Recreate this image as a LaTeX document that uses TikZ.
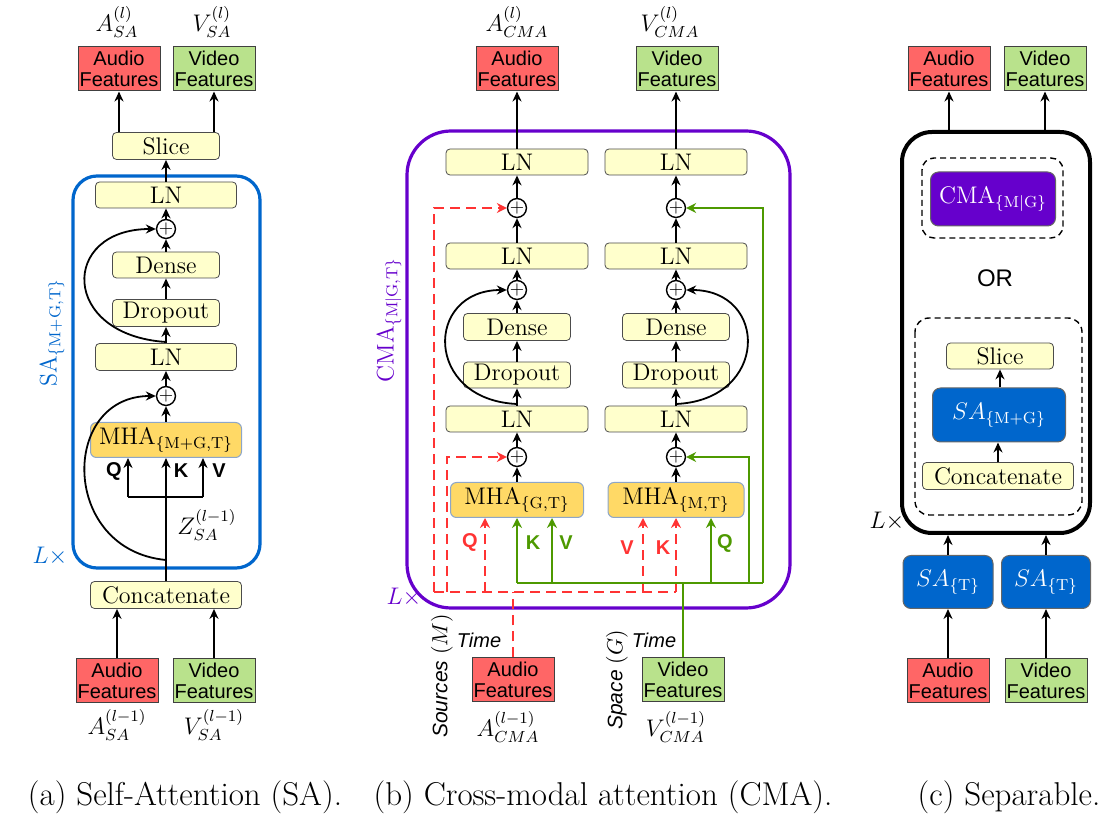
\documentclass[tikz,border=0pt]{standalone}
\usepackage{fontspec}
\newfontfamily\arial{Liberation Sans}
\usetikzlibrary{arrows.meta,calc}
\definecolor{audioRed}{HTML}{FF6666}
\definecolor{videoGreen}{HTML}{B9E28C}
\definecolor{lnYellow}{HTML}{FFFFCC}
\definecolor{mhaOrange}{HTML}{FFD966}
\definecolor{mhaEdge}{HTML}{8DA6C8}
\definecolor{saBlue}{HTML}{0066CC}
\definecolor{cmaPurple}{HTML}{6600CC}
\definecolor{dashRed}{HTML}{FF3333}
\definecolor{lineGreen}{HTML}{4D9900}
\begin{document}
\begin{tikzpicture}[x=0.5pt,y=-0.5pt,
 lnbox/.style={draw=black!70, fill=lnYellow, rounded corners=2pt, inner sep=0pt, font=\fontsize{12}{14}\selectfont, line width=0.4pt},
 feat/.style={draw=black!75, line width=0.5pt, inner sep=0pt, minimum width=41pt, minimum height=22pt, align=center, font=\arial\fontsize{10}{10.5}\selectfont},
 audio/.style={feat, fill=audioRed},
 video/.style={feat, fill=videoGreen},
 mha/.style={draw=mhaEdge, fill=mhaOrange, rounded corners=3pt, inner sep=0pt, minimum height=17.5pt, line width=0.5pt, font=\fontsize{12}{14}\selectfont},
 plus/.style={circle, draw, fill=white, line width=0.7pt, minimum size=7.5pt, inner sep=0pt, font=\fontsize{9}{9}\selectfont},
 arr/.style={-{Stealth[length=5pt,width=4.5pt]}, line width=0.9pt},
 lbl/.style={font=\fontsize{12}{14}\selectfont, inner sep=0pt},
 qkv/.style={font=\arial\bfseries\fontsize{10}{10}\selectfont, inner sep=0pt},
 rdash/.style={draw=dashRed, dash pattern=on 5pt off 3pt, line width=1pt},
 rarr/.style={-{Stealth[length=5pt,width=5pt]}, dashRed},
 gline/.style={draw=lineGreen, line width=1pt},
 garr/.style={-{Stealth[length=5pt,width=5pt]}, lineGreen},
 solidbox/.style={rounded corners=4pt, inner sep=0pt, text=white, font=\fontsize{12}{14}\selectfont, draw=black!60, line width=0.5pt},
 capt/.style={font=\fontsize{16.5}{19}\selectfont, inner sep=0pt}
]
\useasboundingbox (0,0) rectangle (1116,818);

% ================= Panel (a) =================
\draw[saBlue, line width=1.6pt, rounded corners=12pt] (73,176) rectangle (260,568);
\node[lbl] (aLA) at (117,22) {$A^{(l)}_{SA}$};
\node[lbl] (aLV) at (212,22) {$V^{(l)}_{SA}$};
\node[audio] (aOutA) at (119,69) {Audio\\Features};
\node[video] (aOutV) at (214,69) {Video\\Features};
\node[lnbox, minimum width=53.5pt, minimum height=13.5pt] (aSlice) at (166,146) {Slice};
\node[lnbox, minimum width=70.5pt, minimum height=13pt] (aLN2) at (166,195) {LN};
\node[plus] (aP2) at (166,229) {$+$};
\node[lnbox, minimum width=53.5pt, minimum height=13pt] (aDense) at (166,265) {Dense};
\node[lnbox, minimum width=53.5pt, minimum height=13.5pt] (aDrop) at (166,313) {Dropout};
\node[lnbox, minimum width=70.5pt, minimum height=13.5pt] (aLN1) at (166,357) {LN};
\node[plus] (aP1) at (166,396) {$+$};
\node[mha, minimum width=75.5pt] (aMHA) at (166,440) {MHA$_{\{\mathrm{M+G,T}\}}$};
\node[lnbox, minimum width=75.5pt, minimum height=13.5pt] (aConcat) at (166,595) {Concatenate};
\node[audio] (aInA) at (117,681) {Audio\\Features};
\node[video] (aInV) at (214,681) {Video\\Features};
\node[lbl] (aLA0) at (117,725) {$A^{(l-1)}_{SA}$};
\node[lbl] (aLV0) at (214,725) {$V^{(l-1)}_{SA}$};
\node[qkv] (aQ) at (114,471) {Q};
\node[qkv] (aK) at (181,471) {K};
\node[qkv] (aV) at (219,471) {V};
\node[lbl] (aZ) at (207,525) {$Z^{(l-1)}_{SA}$};
\node[lbl, rotate=90, text=saBlue] (aSAlab) at (52,333) {$\mathrm{SA}_{\{\mathrm{M+G,T}\}}$};
\node[lbl, text=saBlue] (aL) at (50,556) {$L\times$};

\draw[arr] (aInA.north) -- (aInA.north |- aConcat.south);
\draw[arr] (aInV.north) -- (aInV.north |- aConcat.south);
\draw[arr] (aConcat.north) -- (aMHA.south);
\coordinate (aBrQ) at (128,497);
\coordinate (aBrV) at (203,497);
\draw[line width=0.9pt] (aBrQ) -- (aBrV);
\draw[arr] (aBrQ) -- (aBrQ |- aMHA.south);
\draw[arr] (aBrV) -- (aBrV |- aMHA.south);
\coordinate (aSk1) at (166,560);
\draw[arr] (aSk1) .. controls (60,550) and (60,396) .. (aP1.west);
\draw[arr] (aMHA.north) -- (aP1.south);
\draw[arr] (aP1.north) -- (aLN1.south);
\draw[arr] (aLN1.north) -- (aDrop.south);
\coordinate (aSk2) at (166,342);
\draw[arr] (aSk2) .. controls (60,335) and (60,229) .. (aP2.west);
\draw[arr] (aDrop.north) -- (aDense.south);
\draw[arr] (aDense.north) -- (aP2.south);
\draw[arr] (aP2.north) -- (aLN2.south);
\draw[arr] (aLN2.north) -- (aSlice.south);
\draw[arr] (aSlice.north -| aOutA) -- (aOutA.south);
\draw[arr] (aSlice.north -| aOutV) -- (aOutV.south);

% ================= Panel (b) =================
\draw[cmaPurple, line width=1.6pt, rounded corners=22pt] (407,131) rectangle (790,608);
\node[lbl] (bLA) at (517,22) {$A^{(l)}_{CMA}$};
\node[lbl] (bLV) at (670,22) {$V^{(l)}_{CMA}$};
\node[audio] (bOutA) at (517,69) {Audio\\Features};
\node[video] (bOutV) at (677,69) {Video\\Features};
\foreach \s/\x in {L/517,R/676}{
  \node[lnbox, minimum width=71pt, minimum height=13pt] (bLN3\s) at (\x,162) {LN};
  \node[plus] (bP3\s) at (\x,208) {$+$};
  \node[lnbox, minimum width=71pt, minimum height=13pt] (bLN2\s) at (\x,256) {LN};
  \node[plus] (bP2\s) at (\x,290) {$+$};
  \node[lnbox, minimum width=53.5pt, minimum height=13.5pt] (bDense\s) at (\x,327) {Dense};
  \node[lnbox, minimum width=53.5pt, minimum height=13pt] (bDrop\s) at (\x,375) {Dropout};
  \node[lnbox, minimum width=71pt, minimum height=13pt] (bLN1\s) at (\x,419) {LN};
  \node[plus] (bP1\s) at (\x,457) {$+$};
}
\node[mha, minimum width=66.5pt] (bMHAL) at (517,500) {MHA$_{\{\mathrm{G,T}\}}$};
\node[mha, minimum width=68pt] (bMHAR) at (676,500) {MHA$_{\{\mathrm{M,T}\}}$};
\foreach \s in {L,R}{
  \draw[arr] (bMHA\s.north) -- (bP1\s.south);
  \draw[arr] (bP1\s.north) -- (bLN1\s.south);
  \draw[arr] (bLN1\s.north) -- (bDrop\s.south);
  \draw[arr] (bDrop\s.north) -- (bDense\s.south);
  \draw[arr] (bDense\s.north) -- (bP2\s.south);
  \draw[arr] (bP2\s.north) -- (bLN2\s.south);
  \draw[arr] (bLN2\s.north) -- (bP3\s.south);
  \draw[arr] (bP3\s.north) -- (bLN3\s.south);
}
\draw[arr] (bLN3L.north) -- (bOutA.south -| bLN3L);
\draw[arr] (bLN3R.north) -- (bOutV.south -| bLN3R);
\coordinate (bSkL) at (517,404);
\coordinate (bSkR) at (676,404);
\draw[arr] (bSkL) .. controls (424,400) and (424,290) .. (bP2L.west);
\draw[arr] (bSkR) .. controls (769,400) and (769,290) .. (bP2R.east);

\node[audio] (bInA) at (513,680) {Audio\\Features};
\node[video] (bInV) at (683,680) {Video\\Features};
\node[lbl] (bLA0) at (508,727) {$A^{(l-1)}_{CMA}$};
\node[lbl] (bLV0) at (676,727) {$V^{(l-1)}_{CMA}$};
\node[inner sep=0pt, font=\arial\itshape\fontsize{10}{10}\selectfont] (bT1) at (479,640) {Time};
\node[inner sep=0pt, font=\arial\itshape\fontsize{10}{10}\selectfont] (bT2) at (654,640) {Time};
\node[inner sep=0pt, rotate=90, font=\arial\itshape\fontsize{10.5}{10.5}\selectfont] (bSrc) at (442,676) {Sources $(M)$};
\node[inner sep=0pt, rotate=90, font=\arial\itshape\fontsize{10.5}{10.5}\selectfont] (bSpc) at (617,680) {Space $(G)$};

% red dashed (audio)
\coordinate (rL) at (434,592);
\coordinate (rI) at (447,592);
\coordinate (rQ) at (485,592);
\coordinate (rV) at (643,592);
\coordinate (rR) at (676,592);
\draw[rdash] (bInA.north) -- (bInA.north |- rL);
\draw[rdash] (rL) -- (rR);
\draw[rdash, rarr] (rL) |- (bP3L.west);
\draw[rdash, rarr] (rI) |- (bP1L.west);
\draw[rdash, rarr] (rQ) -- (rQ |- bMHAL.south);
\draw[rdash, rarr] (rV) -- (rV |- bMHAR.south);
\draw[rdash, rarr] (rR) -- (rR |- bMHAR.south);
% green (video)
\coordinate (gL) at (517,583);
\coordinate (gV) at (552,583);
\coordinate (gQ) at (711,583);
\coordinate (gI) at (749,583);
\coordinate (gR) at (763,583);
\draw[gline] (bInV.north) -- (bInV.north |- gL);
\draw[gline] (gL) -- (gR);
\draw[gline, garr] (gL) -- (gL |- bMHAL.south);
\draw[gline, garr] (gV) -- (gV |- bMHAL.south);
\draw[gline, garr] (gQ) -- (gQ |- bMHAR.south);
\draw[gline, garr] (gI) |- (bP1R.east);
\draw[gline, garr] (gR) |- (bP3R.east);

\node[qkv, text=dashRed] (bQl) at (470,542) {Q};
\node[qkv, text=lineGreen] (bKl) at (533,543) {K};
\node[qkv, text=lineGreen] (bVl) at (566,543) {V};
\node[qkv, text=dashRed] (bVr) at (627,548) {V};
\node[qkv, text=dashRed] (bKr) at (663,548) {K};
\node[qkv, text=lineGreen] (bQr) at (725,543) {Q};
\node[lbl, rotate=90, text=cmaPurple] (bCMAlab) at (389,320) {$\mathrm{CMA}_{\{\mathrm{M|G,T}\}}$};
\node[lbl, text=cmaPurple] (bL) at (404,597) {$L\times$};

% ================= Panel (c) =================
\node[audio] (cOutA) at (949,69) {Audio\\Features};
\node[video] (cOutV) at (1045,69) {Video\\Features};
\node[draw, line width=2pt, rounded corners=15pt, minimum width=94pt, minimum height=200.5pt, inner sep=0pt] (cBox) at (996,332.5) {};
\draw[dash pattern=on 3pt off 2pt, line width=0.7pt, rounded corners=6pt] (922,158) rectangle (1063,238);
\draw[dash pattern=on 3pt off 2pt, line width=0.7pt, rounded corners=7pt] (915,318) rectangle (1082,515);
\node[solidbox, fill=cmaPurple, minimum width=62.5pt, minimum height=27pt] (cCMA) at (993,199) {$\mathrm{CMA}_{\{\mathrm{M|G}\}}$};
\node[inner sep=0pt, font=\arial\fontsize{12}{12}\selectfont] (cOR) at (995,278) {OR};
\node[lnbox, minimum width=53.5pt, minimum height=13pt] (cSlice) at (1000,356) {Slice};
\node[solidbox, fill=saBlue, minimum width=66.5pt, minimum height=27pt] (cSA) at (999,415) {$SA_{\{\mathrm{M+G}\}}$};
\node[lnbox, minimum width=75.5pt, minimum height=13.5pt] (cConcat) at (998,476) {Concatenate};
\draw[arr] (cConcat.north) -- (cConcat.north |- cSA.south);
\draw[arr] (cSA.north -| cSlice) -- (cSlice.south);
\node[lbl] (cL) at (887,521) {$L\times$};
\node[solidbox, fill=saBlue, minimum width=45pt, minimum height=26.5pt] (cSAA) at (948,582) {$SA_{\{\mathrm{T}\}}$};
\node[solidbox, fill=saBlue, minimum width=44.5pt, minimum height=26.5pt] (cSAV) at (1046,582) {$SA_{\{\mathrm{T}\}}$};
\node[audio] (cInA) at (948,681) {Audio\\Features};
\node[video] (cInV) at (1046,681) {Video\\Features};
\draw[arr] (cInA.north) -- (cSAA.south);
\draw[arr] (cInV.north) -- (cSAV.south);
\draw[arr] (cSAA.north) -- (cSAA.north |- cBox.south);
\draw[arr] (cSAV.north) -- (cSAV.north |- cBox.south);
\draw[arr] (cBox.north -| cOutA) -- (cOutA.south);
\draw[arr] (cBox.north -| cOutV) -- (cOutV.south);

% ================= Captions =================
\node[capt] (capA) at (185,797) {(a) Self-Attention (SA).};
\node[capt] (capB) at (603,797) {(b) Cross-modal attention (CMA).};
\node[capt] (capC) at (1009,797) {(c) Separable.};
\end{tikzpicture}
\end{document}
